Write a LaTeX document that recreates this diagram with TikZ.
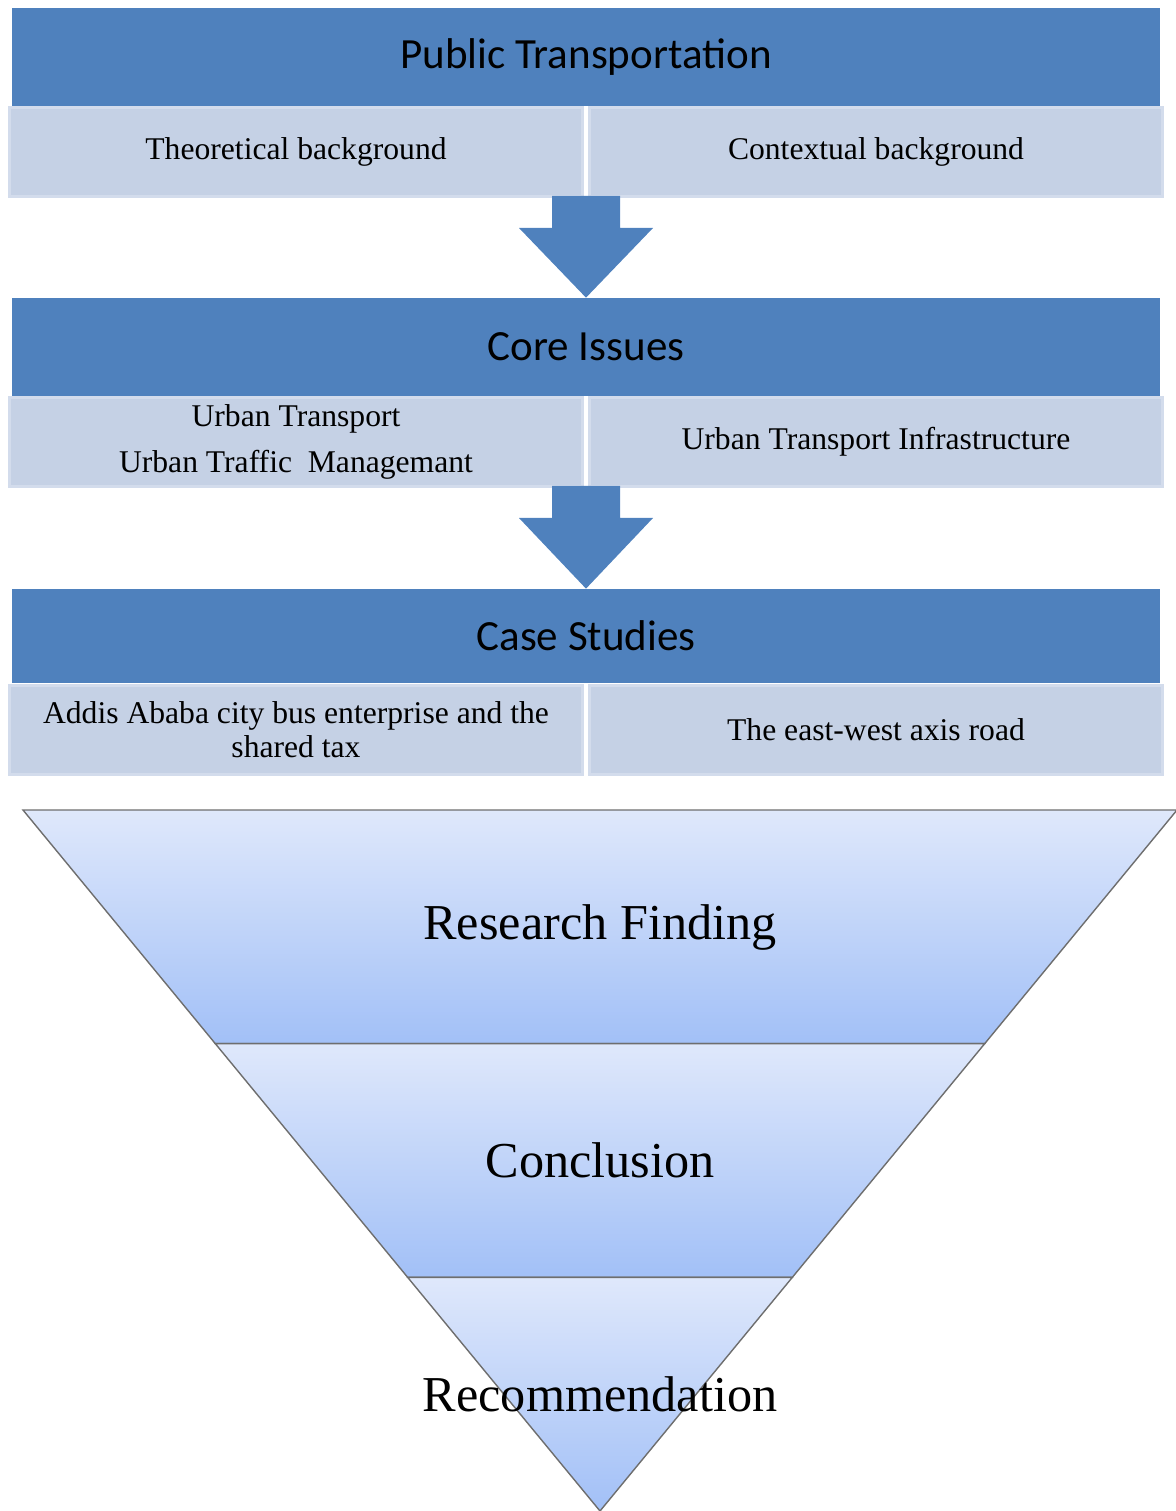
\documentclass[tikz,border=0pt]{standalone}
\usepackage{fontspec}
\setmainfont{Liberation Serif}
\newfontfamily\calibri{Carlito}
\usetikzlibrary{calc}
\definecolor{hdrblue}{HTML}{4F81BD}
\definecolor{subblue}{HTML}{C5D1E5}
\definecolor{subedge}{HTML}{D3DCEC}
\definecolor{funtop}{HTML}{DFE8FB}
\definecolor{funbot}{HTML}{A2C0F7}
\definecolor{funedge}{HTML}{6E6E6E}

\begin{document}
\begin{tikzpicture}[x=0.02cm,y=-0.02cm]
    \tikzstyle{hdrbar}=[fill=hdrblue, minimum width=22.96cm, minimum height=1.96cm, inner sep=0pt, font=\calibri\fontsize{24.5}{29}\selectfont]
    \tikzstyle{subbox}=[fill=subblue, draw=subedge, line width=0.06cm, minimum width=11.46cm, minimum height=1.78cm, inner sep=0pt, align=center, font=\fontsize{18}{22}\selectfont]
    \tikzstyle{blockarrow}=[fill=hdrblue]
    \tikzstyle{segment}=[top color=funtop, bottom color=funbot, draw=funedge, line width=0.8pt]
    \tikzstyle{bigtext}=[font=\fontsize{28.6}{34}\selectfont]
    \useasboundingbox (0,0) rectangle (1176,1511);

    \node [hdrbar] (h1) at (586, 57) {Public Transportation};
    \node [subbox] (l1) at (296, 152) {Theoretical background};
    \node [subbox] (r1) at (876, 152) {Contextual background};

    \node [hdrbar] (h2) at (586, 347) {Core Issues};
    \node [subbox] (l2) at (296, 442) {Urban Transport\\[4pt] Urban Traffic\ \ Managemant};
    \node [subbox] (r2) at (876, 442) {Urban Transport Infrastructure};

    \node [hdrbar, minimum height=1.88cm] (h3) at (586, 636) {Case Studies};
    \node [subbox, font=\fontsize{18}{19}\selectfont] (l3) at (296, 729.5) {Addis Ababa city bus enterprise and the\\ shared tax};
    \node [subbox] (r3) at (876, 729.5) {The east-west axis road};

    % block arrows between the stages
    \coordinate (a1) at ($(l1.south east)!0.5!(r1.south west)$);
    \coordinate (a2) at ($(l2.south east)!0.5!(r2.south west)$);
    \fill [blockarrow] ($(a1)+(-34,-2)$) -- ($(a1)+(34,-2)$) -- ($(a1)+(34,30)$) -- ($(a1)+(67,30)$)
        -- (h2.north) -- ($(a1)+(-67,30)$) -- ($(a1)+(-34,30)$) -- cycle;
    \fill [blockarrow] ($(a2)+(-34,-2)$) -- ($(a2)+(34,-2)$) -- ($(a2)+(34,30)$) -- ($(a2)+(67,30)$)
        -- (h3.north) -- ($(a2)+(-67,30)$) -- ($(a2)+(-34,30)$) -- cycle;

    % funnel
    \coordinate (ftl) at (23, 810);
    \coordinate (ftr) at (1177, 810);
    \coordinate (fap) at (600, 1511);
    \coordinate (m1l) at ($(ftl)!1/3!(fap)$);
    \coordinate (m1r) at ($(ftr)!1/3!(fap)$);
    \coordinate (m2l) at ($(ftl)!2/3!(fap)$);
    \coordinate (m2r) at ($(ftr)!2/3!(fap)$);
    \shadedraw [segment] (ftl) -- (ftr) -- (m1r) -- (m1l) -- cycle;
    \shadedraw [segment] (m1l) -- (m1r) -- (m2r) -- (m2l) -- cycle;
    \shadedraw [segment] (m2l) -- (m2r) -- (fap) -- cycle;

    \node [bigtext] (rf) at (600, 927) {Research Finding};
    \node [bigtext] (cn) at (600, 1160) {Conclusion};
    \node [bigtext] (rc) at (600, 1394) {Recommendation};
\end{tikzpicture}
\end{document}
